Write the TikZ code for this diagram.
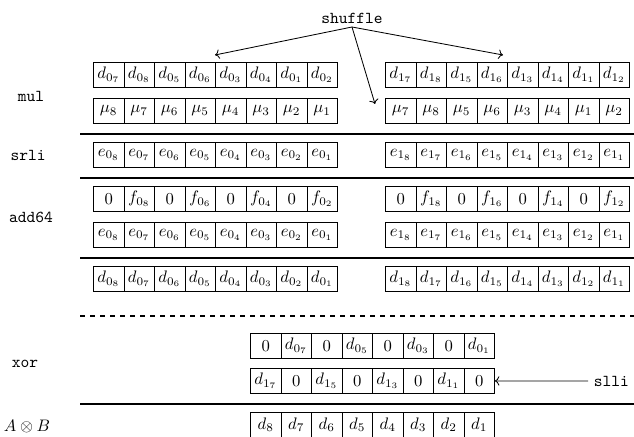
\documentclass[tikz,border=0pt]{standalone}
\usetikzlibrary{arrows.meta}
\newcommand\cellrow[4]{%
  \foreach \t [count=\i] in {#4} {%
    \node[cell] (#1-\i) at ({#2+(\i-1)*30.5},#3) {$\t$};
  }%
}
\begin{document}
\begin{tikzpicture}[x=0.6pt,y=-0.6pt,
  cell/.style={draw, line width=0.5pt, minimum width=18.3pt, minimum height=15pt, inner sep=0pt, anchor=north west},
  sepline/.style={line width=0.8pt},
  lab/.style={font=\ttfamily, anchor=center},
  arr/.style={->, line width=0.5pt}]
\useasboundingbox (0,0) rectangle (634,437);

% labels
\node[lab] (shuffle) at (352,18) {shuffle};
\node[lab] (mul) at (31,96) {mul};
\node[lab] (srli) at (28,155) {srli};
\node[lab] (add) at (31,217) {add64};
\node[lab] (xor) at (25,364) {xor};
\node (AB) at (27,426) {$A\otimes B$};
\node[lab, anchor=west] (slli) at (588,381) {slli};

% mul rows
\cellrow{ma}{93}{62}{d_{0_7},d_{0_8},d_{0_5},d_{0_6},d_{0_3},d_{0_4},d_{0_1},d_{0_2}}
\cellrow{mb}{385}{62}{d_{1_7},d_{1_8},d_{1_5},d_{1_6},d_{1_3},d_{1_4},d_{1_1},d_{1_2}}
\cellrow{mc}{93}{98}{\mu_8,\mu_7,\mu_6,\mu_5,\mu_4,\mu_3,\mu_2,\mu_1}
\cellrow{md}{385}{98}{\mu_7,\mu_8,\mu_5,\mu_6,\mu_3,\mu_4,\mu_1,\mu_2}

% srli
\cellrow{sa}{93}{142}{e_{0_8},e_{0_7},e_{0_6},e_{0_5},e_{0_4},e_{0_3},e_{0_2},e_{0_1}}
\cellrow{sb}{385}{142}{e_{1_8},e_{1_7},e_{1_6},e_{1_5},e_{1_4},e_{1_3},e_{1_2},e_{1_1}}

% add64
\cellrow{aa}{93}{186}{0,f_{0_8},0,f_{0_6},0,f_{0_4},0,f_{0_2}}
\cellrow{ab}{385}{186}{0,f_{1_8},0,f_{1_6},0,f_{1_4},0,f_{1_2}}
\cellrow{ac}{93}{222}{e_{0_8},e_{0_7},e_{0_6},e_{0_5},e_{0_4},e_{0_3},e_{0_2},e_{0_1}}
\cellrow{ad}{385}{222}{e_{1_8},e_{1_7},e_{1_6},e_{1_5},e_{1_4},e_{1_3},e_{1_2},e_{1_1}}

% result d
\cellrow{da}{93}{266}{d_{0_8},d_{0_7},d_{0_6},d_{0_5},d_{0_4},d_{0_3},d_{0_2},d_{0_1}}
\cellrow{db}{385}{266}{d_{1_8},d_{1_7},d_{1_6},d_{1_5},d_{1_4},d_{1_3},d_{1_2},d_{1_1}}

% xor
\cellrow{xa}{250}{333}{0,d_{0_7},0,d_{0_5},0,d_{0_3},0,d_{0_1}}
\cellrow{xb}{250}{368}{d_{1_7},0,d_{1_5},0,d_{1_3},0,d_{1_1},0}

% result
\cellrow{ra}{250}{412}{d_8,d_7,d_6,d_5,d_4,d_3,d_2,d_1}

% separators
\draw[sepline] (80,134) -- (634,134);
\draw[sepline] (80,178) -- (634,178);
\draw[sepline] (80,258) -- (634,258);
\draw[sepline, dashed] (80,316) -- (634,316);
\draw[sepline] (80,404) -- (634,404);

% shuffle arrows
\coordinate (src) at (352,27);
\coordinate (tl) at (215,55);
\coordinate (tr) at (503,55);
\coordinate (td) at (375,104);
\draw[arr] (src) -- (tl);
\draw[arr] (src) -- (tr);
\draw[arr] (src) -- (td);

% slli arrow
\draw[arr] (slli.west) -- (xb-8.east);
\end{tikzpicture}
\end{document}
